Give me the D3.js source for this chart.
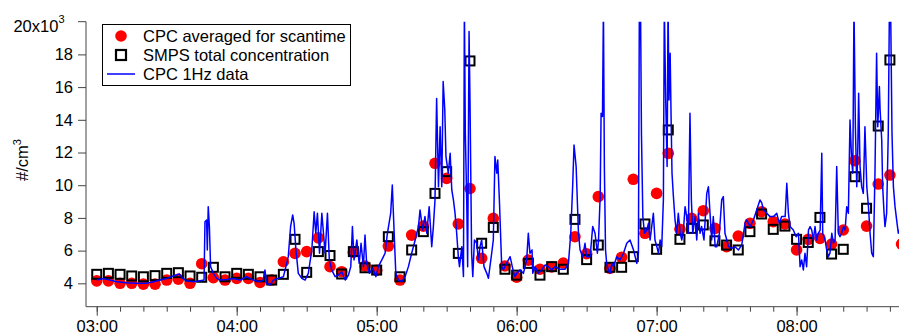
<!DOCTYPE html>
<html>
<head>
<meta charset="utf-8">
<script src="https://cdn.jsdelivr.net/npm/d3@7"></script>
<style>
  body { margin: 0; background: #fff; }
  svg { display: block; font-family: "Liberation Sans", Arial, sans-serif; }
</style>
</head>
<body>
<div id="chart"></div>
<script>
// times are minutes after 03:00, concentrations in 10^3 #/cm3
const scanMinutes = [0, 5, 10, 15, 20, 25, 30, 35, 40, 45, 50, 55, 60, 65, 70, 75, 80, 85, 90, 95,
  100, 105, 110, 115, 120, 125, 130, 135, 140, 145, 150, 155, 160, 165, 170, 175, 180, 185, 190, 195,
  200, 205, 210, 215, 220, 225, 230, 235, 240, 245, 250, 255, 260, 265, 270, 275, 280, 285, 290, 295,
  300, 305, 310, 315, 320, 325, 330, 335, 340, 345];

const cpcAveraged = [4.15, 4.15, 4.0, 4.0, 3.95, 3.95, 4.2, 4.25, 4.0, 5.2, 4.35, 4.2, 4.3, 4.3, 4.05, 4.2, 5.32, 5.83, 5.94, 6.78,
  5.02, 4.71, 5.9, 5.06, 4.8, 6.28, 4.2, 6.95, 7.5, 11.34, 10.42, 7.63, 9.8, 5.53, 7.97, 5.06, 4.37, 5.42, 4.86, 5.0,
  5.24, 6.85, 5.81, 9.3, 4.92, 5.59, 10.36, 7.06, 9.5, 11.95, 7.3, 7.97, 8.44, 7.36, 6.24, 6.89, 7.67, 8.38, 7.77, 7.63,
  6.04, 6.69, 6.75, 6.4, 7.26, 11.5, 7.5, 10.07, 10.62, 6.4];

const smpsTotal = [4.55, 4.61, 4.55, 4.45, 4.4, 4.47, 4.61, 4.65, 4.45, 4.37, 4.98, 4.4, 4.61, 4.55, 4.4, 4.2, 4.55, 6.69, 4.67, 5.94,
  5.7, 4.57, 5.94, 4.95, 4.81, 6.85, 4.4, 6.04, 7.16, 9.5, 10.83, 5.83, 17.6, 6.45, 7.42, 4.86, 4.5, 5.22, 4.5, 5.02,
  4.86, 7.91, 5.45, 6.34, 4.98, 4.98, 5.63, 7.63, 6.08, 13.38, 6.69, 7.36, 7.57, 6.6, 6.34, 6.04, 7.16, 8.24, 7.3, 7.5,
  6.69, 6.5, 8.03, 5.79, 6.08, 10.52, 8.59, 13.62, 17.66];

// CPC 1 Hz trace: [minute, value]
const cpc1Hz = [
  [0, 4.2], [2.8, 4.3], [5.7, 4.2], [8.6, 4.1], [12.8, 4.04], [17.1, 4.0], [21.4, 4.0], [24.3, 4.1], [27.1, 4.2],
  [30, 4.3], [32.8, 4.45], [35.4, 4.57], [36.8, 4.3], [38.5, 4.16], [41.4, 4.1], [44.3, 4.16], [46, 4.2],
  [46.4, 7.77], [47.1, 7.87], [47.4, 6.04], [47.8, 8.69], [48.3, 7.46], [48.8, 5.02], [50, 4.61], [51.4, 4.3],
  [52.8, 4.2], [55.7, 4.24], [58.6, 4.3], [61.4, 4.2], [64.3, 4.4], [67.1, 4.2], [70, 4.1], [71.4, 4.2],
  [72.1, 4.81], [72.8, 4.0], [74.3, 3.9], [75.7, 4.2], [77.8, 4.3], [80, 4.4], [81.1, 5.02], [82.1, 5.63],
  [83.1, 7.46], [84, 8.18], [84.6, 7.67], [85.4, 6.04], [86.4, 4.61],
  [87.9, 4.31], [89.3, 4.2], [90.7, 4.61], [92.2, 6.04], [93.2, 8.38], [93.9, 7.06], [94.6, 8.28], [95.5, 5.84],
  [96.5, 8.28], [97.2, 7.06], [97.9, 5.84], [98.9, 8.28], [99.7, 5.43], [100.7, 4.82], [102.2, 4.41], [103.6, 4.51],
  [105, 4.71], [106.5, 4.2], [107.9, 4.51], [108.9, 5.02], [109.6, 7.47], [110.3, 5.43], [111.5, 6.65], [112.5, 5.22],
  [113.3, 6.45], [114.3, 5.02], [115, 6.96], [115.7, 5.22], [116.9, 4.61], [118.3, 4.92], [119.7, 4.41], [120.7, 5.02],
  [122.2, 5.43], [123.6, 5.84], [124.6, 7.06], [126, 8.28], [126.7, 10.01], [127.5, 7.06], [128.2, 4.61], [129.3, 4.2],
  [130.7, 4.1], [132.2, 4.41], [133.6, 5.02], [135, 5.84], [136.5, 6.65], [137.9, 7.47], [138.6, 8.49], [139.7, 7.26],
  [140.7, 8.08], [141.5, 7.06], [142.5, 8.69], [143.6, 6.24], [144.3, 7.47], [145, 9.1], [145.7, 15.3], [146.5, 9.91],
  [147.2, 13.58], [147.9, 9.91], [148.5, 16.34], [149.2, 14.6], [149.7, 11.75], [150.7, 10.73], [151.5, 11.95],
  [152.2, 9.71], [152.9, 9.1], [153.6, 8.28], [154.3, 7.06], [155, 5.63], [155.5, 5.02], [156.5, 6.24], [157.2, 4.41],
  [157.6, 21], [158, 13.17], [158.6, 9.1], [159, 5.02], [159.6, 19.4], [160, 15.21], [160.7, 5.84], [161.2, 4.41],
  [161.9, 6.65], [162.9, 6.45], [163.6, 5.43], [164.3, 6.24], [165, 6.65], [166, 5.02], [167.2, 4.61], [167.9, 4.31],
  [169.3, 5.84], [170, 6.65], [170.7, 11.75], [171.5, 10.73], [171.9, 11.54], [172.6, 9.1], [173.6, 5.02], [174.3, 4.82],
  [175.7, 5.22], [177.2, 5.63], [178.6, 4.71], [179.3, 4.41], [180, 4.61], [181.5, 4.82], [182.9, 4.61], [184.3, 5.43],
  [185, 7.06], [185.7, 5.84], [186.6, 6.04], [186.9, 4.61], [187.9, 5.02], [189.3, 4.61], [190.7, 4.82], [192.2, 5.12],
  [193.6, 5.02], [195, 4.82], [196.5, 5.02], [198.6, 4.86], [200.7, 4.86], [202.2, 5.22], [203.2, 7.06], [204, 9.91],
  [204.6, 12.46], [205.5, 11.14], [206.5, 7.06], [207.2, 6.04], [208.3, 5.63], [209.3, 6.45], [210, 5.63], [211.5, 5.63],
  [212.6, 7.47], [213.6, 7.06], [214.6, 5.84],
  [215.1, 6.65], [215.8, 9.3], [216.2, 14.4], [216.8, 14.2], [217.2, 21], [217.6, 11.14], [218.1, 6.04], [218.6, 5.22],
  [219.3, 4.82], [220, 4.61], [220.8, 5.22], [221.5, 5.02], [222.9, 5.63], [224.3, 5.43], [225.8, 5.84], [227.2, 6.45],
  [228.6, 6.65], [230.1, 6.04], [231.5, 5.22], [232.2, 5.84], [232.6, 21], [233.1, 21], [233.5, 13.17], [234.1, 8.08],
  [234.8, 7.06], [235.8, 7.26], [236.5, 7.67], [237.2, 6.65], [237.9, 7.47], [238.6, 8.28], [239.3, 6.65], [240.1, 6.24],
  [240.8, 5.84], [241.5, 6.65], [242.2, 6.24], [242.9, 9.1], [243.3, 21], [243.9, 15.21], [244.5, 11.14], [244.9, 21],
  [245.3, 15.21], [245.8, 18.07], [246.2, 14.2], [246.6, 10.73], [247.2, 9.3], [247.9, 7.87], [248.6, 7.06], [249.3, 8.28],
  [250.1, 7.06], [250.8, 6.65], [251.5, 7.26], [252.2, 8.69], [252.9, 8.08], [253.6, 7.06], [254.3, 14.4], [254.9, 9.1],
  [255.5, 7.06], [256.5, 8.08], [257.2, 6.65], [257.9, 8.28], [258.6, 7.06], [259.3, 7.47], [260.3, 6.65], [261.5, 9.5],
  [262.2, 9.91], [262.9, 8.28], [263.6, 6.65], [264.3, 8.08], [265.1, 6.24], [265.8, 6.24], [266.9, 7.06], [267.9, 9.1],
  [268.6, 9.3], [269.3, 7.06], [270.1, 6.65], [270.8, 6.24], [272.2, 6.14], [273.6, 6.24], [275.1, 6.04], [276.5, 6.35],
  [277.9, 7.67], [278.6, 7.87], [280.1, 7.47], [281.5, 7.87], [282.9, 8.49], [284.3, 9.1], [285.1, 8.9], [285.8, 8.49],
  [287.2, 8.28], [288.6, 8.08], [290.1, 8.08], [291.5, 8.28], [292.6, 7.67], [293.6, 8.08], [295.1, 8.08], [295.8, 10.12],
  [296.5, 8.28], [297.2, 7.47], [298.6, 7.26], [299.8, 6.85], [300.8, 7.06], [301.5, 5.02], [302.2, 5.43], [302.9, 4.82],
  [303.6, 5.84], [304.3, 5.02], [305.1, 7.26], [305.8, 7.47], [306.5, 7.26], [307.2, 6.65], [307.9, 7.47], [308.6, 6.65],
  [309.3, 7.06], [310.1, 7.26], [310.8, 11.95], [311.2, 7.06], [312.2, 6.65], [312.9, 6.04], [313.6, 5.63], [314.3, 5.84],
  [315.1, 7.06], [315.8, 6.45], [316.5, 6.65], [317.2, 11.14], [317.9, 7.06], [318.6, 6.85], [319.3, 7.06], [320.1, 7.47],
  [320.8, 7.26], [321.5, 8.69], [322.2, 8.28], [322.9, 13.99], [323.6, 11.54], [324.1, 10.73], [324.6, 21], [325.2, 13.58],
  [325.8, 9.91], [326.2, 11.95], [326.6, 15.62], [327.2, 11.14], [327.9, 9.91], [328.6, 9.5], [329.3, 13.58], [330.1, 9.91],
  [330.8, 8.69], [331.5, 7.06], [332.2, 5.84], [332.9, 5.63], [333.6, 10.73], [334.3, 18.07], [334.8, 13.58], [335.5, 16.03],
  [335.8, 14.6], [336.5, 12.77], [336.9, 9.91], [337.5, 8.28], [337.9, 7.47], [338.6, 8.28], [339.3, 13.17], [339.8, 21],
  [340.3, 21], [340.9, 13.17], [341.5, 9.91], [342.2, 8.69], [342.9, 7.87], [343.6, 7.06], [344.5, 7.4]
];

const yTickValues = [4, 6, 8, 10, 12, 14, 16, 18];
const legendLabels = ["CPC averaged for scantime", "SMPS total concentration", "CPC 1Hz data"];

const width = 899, height = 334;
const plotLeft = 86, plotRight = 899, plotTop = 21.7, plotBottom = 306.7;
const FONT = 16.5;

const base = new Date(2000, 0, 1, 3, 0, 0);
const at = m => new Date(base.getTime() + m * 60000);

const x = d3.scaleTime().domain([at(-4.6), at(343.9)]).range([plotLeft, plotRight]);
const y = d3.scaleLinear().domain([2.57, 20]).range([plotBottom, plotTop]);

const svg = d3.select('#chart').append('svg')
  .attr('width', width)
  .attr('height', height);

svg.append('defs').append('clipPath').attr('id', 'plot-clip')
  .append('rect')
  .attr('x', plotLeft - 10).attr('y', plotTop)
  .attr('width', plotRight - plotLeft + 20).attr('height', plotBottom - plotTop + 20);

// CPC averaged (red dots)
svg.append('g')
  .selectAll('circle')
  .data(scanMinutes.map((m, i) => [m, cpcAveraged[i]]))
  .join('circle')
  .attr('cx', d => x(at(d[0])))
  .attr('cy', d => y(d[1]))
  .attr('r', 5.8)
  .attr('fill', '#ff0000');

// SMPS (hollow squares)
const sq = 9;
svg.append('g')
  .selectAll('rect')
  .data(smpsTotal.map((v, i) => [scanMinutes[i], v]))
  .join('rect')
  .attr('x', d => x(at(d[0])) - sq / 2)
  .attr('y', d => y(d[1]) - sq / 2)
  .attr('width', sq)
  .attr('height', sq)
  .attr('fill', 'none')
  .attr('stroke', '#000')
  .attr('stroke-width', 2);

// CPC 1 Hz line
svg.append('path')
  .datum(cpc1Hz)
  .attr('clip-path', 'url(#plot-clip)')
  .attr('fill', 'none')
  .attr('stroke', '#0000ff')
  .attr('stroke-width', 1.5)
  .attr('stroke-linejoin', 'round')
  .attr('d', d3.line().x(d => x(at(d[0]))).y(d => y(d[1])));

// Axes
const axisColor = '#444';

const xMinor = svg.append('g')
  .attr('transform', `translate(0,${plotBottom})`)
  .call(d3.axisBottom(x).ticks(d3.timeMinute.every(10)).tickSize(5).tickFormat(''));
xMinor.select('.domain').remove();
xMinor.selectAll('line').attr('stroke', axisColor);

const xAxis = svg.append('g')
  .attr('transform', `translate(0,${plotBottom})`)
  .call(d3.axisBottom(x).ticks(d3.timeHour.every(1)).tickFormat(d3.timeFormat('%H:%M')).tickSize(9).tickPadding(5));
xAxis.select('.domain').remove();
xAxis.selectAll('line').attr('stroke', axisColor);
xAxis.selectAll('text').attr('font-size', FONT).attr('fill', '#000').style('font-family', '"Liberation Sans", Arial, sans-serif');

svg.append('line')
  .attr('x1', plotLeft).attr('x2', plotRight)
  .attr('y1', plotBottom).attr('y2', plotBottom)
  .attr('stroke', axisColor);

const yAxis = svg.append('g')
  .attr('transform', `translate(${plotLeft},0)`)
  .call(d3.axisLeft(y).tickValues(yTickValues).tickFormat(d3.format('d')).tickSize(8).tickPadding(5));
yAxis.select('.domain').remove();
yAxis.selectAll('line').attr('stroke', axisColor);
yAxis.selectAll('text').attr('font-size', FONT).attr('fill', '#000').style('font-family', '"Liberation Sans", Arial, sans-serif');

svg.append('line')
  .attr('x1', plotLeft).attr('x2', plotLeft)
  .attr('y1', y(20)).attr('y2', plotBottom)
  .attr('stroke', axisColor);
svg.append('line')
  .attr('x1', plotLeft - 8).attr('x2', plotLeft)
  .attr('y1', y(20)).attr('y2', y(20))
  .attr('stroke', axisColor);

// top label 20x10^3
const topLabel = svg.append('text')
  .attr('x', 64.5)
  .attr('y', y(20) + 10)
  .attr('text-anchor', 'end')
  .attr('font-size', FONT);
topLabel.append('tspan').text('20x10');
topLabel.append('tspan').attr('font-size', 11).attr('dy', -9).text('3');

// y label
const yLabel = svg.append('text')
  .attr('transform', 'translate(28,160) rotate(-90)')
  .attr('text-anchor', 'middle')
  .attr('font-size', FONT);
yLabel.append('tspan').text('#/cm');
yLabel.append('tspan').attr('font-size', 11).attr('dy', -7).text('3');

// Legend
const legend = svg.append('g');
legend.append('rect')
  .attr('x', 102.5).attr('y', 24.5)
  .attr('width', 248).attr('height', 61)
  .attr('fill', '#fff')
  .attr('stroke', '#000')
  .attr('stroke-width', 1);

const rowY = [36, 55, 74];
legend.append('circle').attr('cx', 121).attr('cy', rowY[0]).attr('r', 5.8).attr('fill', '#ff0000');
legend.append('rect')
  .attr('x', 121 - 5).attr('y', rowY[1] - 5)
  .attr('width', 10).attr('height', 10)
  .attr('fill', 'none').attr('stroke', '#000').attr('stroke-width', 2.2);
legend.append('line')
  .attr('x1', 107).attr('x2', 135)
  .attr('y1', rowY[2]).attr('y2', rowY[2])
  .attr('stroke', '#0000ff').attr('stroke-width', 1.5);

legend.selectAll('text.lab')
  .data(legendLabels)
  .join('text')
  .attr('class', 'lab')
  .attr('x', 143)
  .attr('y', (d, i) => rowY[i] + 6)
  .attr('font-size', FONT)
  .text(d => d);
</script>
</body>
</html>
